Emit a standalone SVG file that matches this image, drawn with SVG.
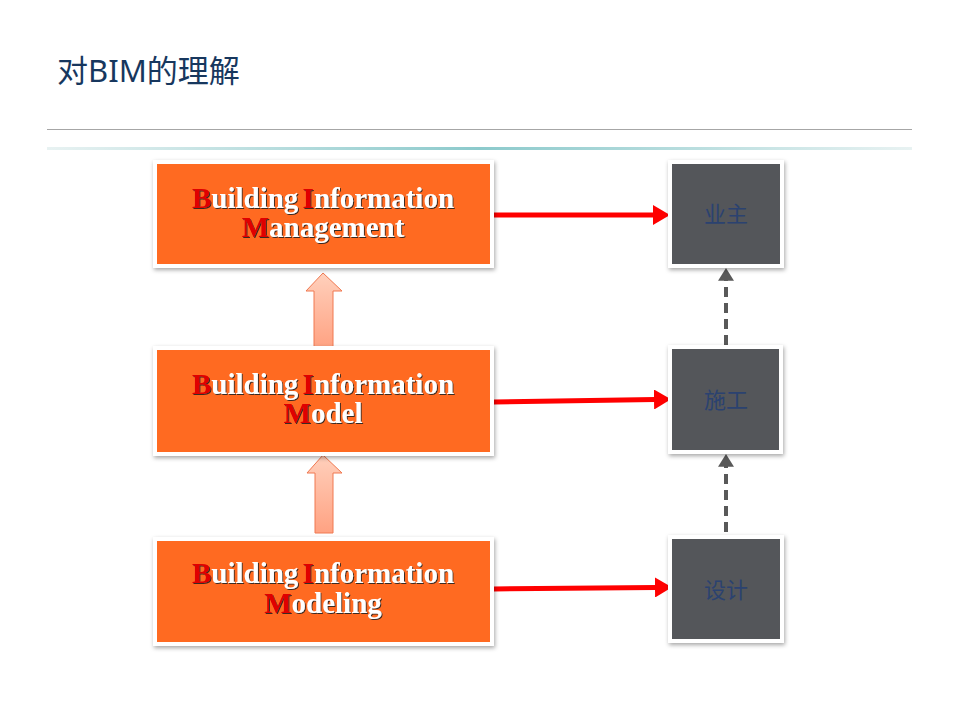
<svg xmlns="http://www.w3.org/2000/svg" width="960" height="720" viewBox="0 0 960 720">
<defs>
<style>
.title{font-family:"Noto Sans","Noto Sans CJK SC",sans-serif;font-size:31px;fill:#17375E}
.frame{fill:#FFFFFF;filter:url(#sh)}
.orange{fill:#FF6A21}
.grey{fill:#54565A}
.bt{font-family:"Liberation Serif","Times New Roman",serif;font-weight:bold;font-size:29px;fill:#FFFFFF;text-anchor:middle;word-spacing:-3px;filter:url(#ts)}
.r{fill:#E00000}
.gt{font-family:"Noto Sans CJK SC",sans-serif;font-size:22px;fill:#2B4270;text-anchor:middle}
.red{stroke:#FF0000;stroke-width:5;fill:none}
.dash{stroke:#595959;stroke-width:4;stroke-dasharray:10 6;fill:none}
.block{fill:url(#pg);stroke:#F07850;stroke-width:1}
</style>
<filter id="sh" x="-10%" y="-10%" width="120%" height="130%">
<feDropShadow dx="1" dy="2" stdDeviation="2" flood-color="#000" flood-opacity="0.35"/>
</filter>
<filter id="ts" x="-5%" y="-20%" width="110%" height="140%">
<feDropShadow dx="1" dy="1" stdDeviation="0.6" flood-color="#222" flood-opacity="0.9"/>
</filter>
<linearGradient id="pg" x1="0" y1="0" x2="0" y2="1">
<stop offset="0" stop-color="#FFD0BC"/>
<stop offset="1" stop-color="#FFA282"/>
</linearGradient>
<linearGradient id="lg" x1="0" y1="0" x2="1" y2="0">
<stop offset="0" stop-color="#E8F2F2"/>
<stop offset="0.5" stop-color="#8CCACC"/>
<stop offset="1" stop-color="#E8F2F2"/>
</linearGradient>
<marker id="ra" markerWidth="4" markerHeight="4" refX="0.2" refY="2" orient="auto" markerUnits="strokeWidth">
<path d="M0,0 L3.4,2 L0,4 Z" fill="#FF0000"/>
</marker>
<marker id="ga" markerWidth="4" markerHeight="4" refX="0.2" refY="2" orient="auto" markerUnits="strokeWidth">
<path d="M0,0 L3.2,2 L0,4 Z" fill="#595959"/>
</marker>
</defs>
<rect width="960" height="720" fill="#FFFFFF"/>
<g id="header">
<text class="title" x="57" y="82">对BIM的理解</text>
<line x1="47" y1="129.5" x2="912" y2="129.5" stroke="#A6A6A6" stroke-width="1"/>
<rect x="47" y="147" width="865" height="3" fill="url(#lg)"/>
</g>
<g id="connectors">
<line class="red" x1="492" y1="215" x2="654" y2="215" marker-end="url(#ra)"/>
<line class="red" x1="494" y1="402" x2="655" y2="399.5" marker-end="url(#ra)"/>
<line class="red" x1="494" y1="589" x2="656" y2="587.5" marker-end="url(#ra)"/>
<line class="dash" x1="726" y1="345" x2="726" y2="280" marker-end="url(#ga)"/>
<line class="dash" x1="726" y1="532" x2="726" y2="466" marker-end="url(#ga)"/>
<path class="block" d="M323,273 L342,291 L333,291 L333,348 L314,348 L314,291 L306,291 Z"/>
<path class="block" d="M323,455 L342,473 L333,473 L333,533 L315,533 L315,473 L307,473 Z"/>
</g>
<g id="bim-management">
<rect class="frame" x="153" y="160" width="341" height="108"/>
<rect class="orange" x="157" y="164" width="333" height="100"/>
<text class="bt"><tspan x="323" y="208"><tspan class="r">B</tspan>uilding <tspan class="r">I</tspan>nformation</tspan><tspan x="323" y="237"><tspan class="r">M</tspan>anagement</tspan></text>
</g>
<g id="bim-model">
<rect class="frame" x="153" y="346" width="341" height="110"/>
<rect class="orange" x="157" y="350" width="333" height="102"/>
<text class="bt"><tspan x="323" y="394"><tspan class="r">B</tspan>uilding <tspan class="r">I</tspan>nformation</tspan><tspan x="323" y="423"><tspan class="r">M</tspan>odel</tspan></text>
</g>
<g id="bim-modeling">
<rect class="frame" x="153" y="537" width="341" height="109"/>
<rect class="orange" x="157" y="541" width="333" height="101"/>
<text class="bt"><tspan x="323" y="583"><tspan class="r">B</tspan>uilding <tspan class="r">I</tspan>nformation</tspan><tspan x="323" y="613"><tspan class="r">M</tspan>odeling</tspan></text>
</g>
<g id="owner">
<rect class="frame" x="668" y="160" width="116" height="108"/>
<rect class="grey" x="672" y="164" width="108" height="100"/>
<text class="gt" x="726" y="222">业主</text>
</g>
<g id="construction">
<rect class="frame" x="668" y="345" width="115" height="109"/>
<rect class="grey" x="672" y="349" width="107" height="101"/>
<text class="gt" x="726" y="408">施工</text>
</g>
<g id="design">
<rect class="frame" x="668" y="535" width="116" height="108"/>
<rect class="grey" x="672" y="539" width="108" height="100"/>
<text class="gt" x="726" y="598">设计</text>
</g>
</svg>
